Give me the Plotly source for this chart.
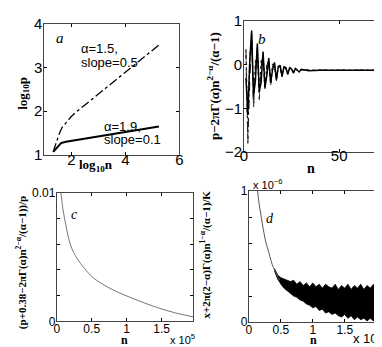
import plotly.graph_objects as go

# panel a: log10 p vs log10 n
a_x_solid = [1.33, 1.45, 1.55, 1.62, 1.8, 2.5, 3.5, 4.5, 5.24]
a_y_solid = [1.07, 1.15, 1.22, 1.27, 1.3, 1.37, 1.47, 1.57, 1.65]
a_x_dash = [1.33, 1.45, 1.55, 1.65, 1.8, 2.0, 2.2, 2.5, 3.0, 3.5, 4.0, 4.5, 5.24]
a_y_dash = [1.07, 1.3, 1.48, 1.62, 1.74, 1.88, 1.99, 2.14, 2.39, 2.64, 2.89, 3.14, 3.51]

# panel b: oscillating correction
b_n = list(range(1, 31)) + [34, 40, 70]
b_solid = [-0.3, -1.15, 0.05, 0.78, -0.72, -0.35, 0.48, -0.62, -0.4, 0.3,
           -0.52, -0.25, 0.15, -0.42, -0.12, 0.05, -0.34, -0.06, -0.02, -0.27,
           -0.05, -0.07, -0.22, -0.07, -0.1, -0.19, -0.09, -0.12, -0.17, -0.11,
           -0.14, -0.13, -0.13]
b_dash = [0.3, -1.8, -0.45, 0.62, -1.0, -0.05, 0.38, -0.8, -0.05, 0.24,
          -0.62, -0.02, 0.1, -0.48, -0.03, 0.0, -0.37, -0.04, -0.06, -0.29,
          -0.06, -0.09, -0.23, -0.08, -0.11, -0.19, -0.1, -0.12, -0.16, -0.12,
          -0.13, -0.13, -0.13]
b_dot = [0.35, -1.7, 0.15, 0.72, -0.88, 0.05, 0.28, -0.68, 0.08, 0.18,
         -0.56, 0.02, 0.06, -0.44, 0.0, -0.02, -0.35, -0.03, -0.07, -0.28,
         -0.05, -0.1, -0.22, -0.08, -0.12, -0.18, -0.1, -0.13, -0.15, -0.12,
         -0.13, -0.13, -0.13]

# panel c: relative error (n in units of 1e5)
c_n = [0.04, 0.06, 0.09, 0.13, 0.2, 0.29, 0.4, 0.52, 0.75, 0.99, 1.22, 1.45, 1.68, 1.95]
c_y = [0.0108, 0.01, 0.0087, 0.0075, 0.0059, 0.0049, 0.0041, 0.0034, 0.0026,
       0.002, 0.0015, 0.00105, 0.00068, 0.00035]

# panel d: smooth part then noisy band (n in 1e5, values in 1e-6)
d_n = [0.12, 0.134, 0.16, 0.184, 0.21, 0.234, 0.27, 0.308, 0.345, 0.383, 0.43, 0.483]
d_y = [1.03, 1.0, 0.9, 0.83, 0.75, 0.684, 0.6, 0.539, 0.47, 0.417, 0.37, 0.32]
d_band_n = [0.40, 0.45, 0.50, 0.55, 0.60, 0.65, 0.70, 0.75, 0.80, 0.85, 0.90, 0.95,
            1.00, 1.05, 1.10, 1.15, 1.20, 1.25, 1.30, 1.35, 1.40, 1.45, 1.50, 1.55,
            1.60, 1.65, 1.70, 1.75, 1.80, 1.85, 1.90, 1.95, 2.00, 2.05, 2.10]
d_band_hi = [0.41, 0.36, 0.34, 0.33, 0.32, 0.31, 0.32, 0.29, 0.31, 0.28, 0.30, 0.27,
             0.30, 0.27, 0.29, 0.26, 0.29, 0.27, 0.26, 0.29, 0.25, 0.28, 0.26, 0.29,
             0.25, 0.28, 0.26, 0.29, 0.25, 0.28, 0.26, 0.29, 0.25, 0.28, 0.26]
d_band_lo = [0.39, 0.33, 0.29, 0.26, 0.24, 0.22, 0.20, 0.19, 0.17, 0.16, 0.14, 0.13,
             0.11, 0.12, 0.09, 0.10, 0.07, 0.08, 0.06, 0.07, 0.05, 0.04, 0.06, 0.03,
             0.05, 0.02, 0.04, 0.02, 0.03, 0.01, 0.03, 0.01, 0.02, 0.01, 0.02]

W, H = 382, 347
SANS = "Liberation Sans, Arial, sans-serif"
SERIF = "Liberation Serif, Times New Roman, serif"


def px_dom(a, b, total, flip=False):
    if flip:
        return [1 - b / total, 1 - a / total]
    return [a / total, b / total]


def axis(domain, rng, tickvals, ticktext, anchor, fs, standoff=0):
    return dict(domain=domain, range=rng, tickvals=tickvals, ticktext=ticktext,
                ticks="inside", ticklen=3, tickcolor="black", showline=True,
                linecolor="#444", linewidth=1, mirror="allticks", showgrid=False,
                zeroline=False, anchor=anchor, ticklabelstandoff=standoff,
                tickfont=dict(family=SANS, size=fs, color="black"))


fig = go.Figure()

fig.add_trace(go.Scatter(x=a_x_dash, y=a_y_dash, mode="lines", xaxis="x", yaxis="y",
                         line=dict(color="black", width=1.3, dash="dashdot")))
fig.add_trace(go.Scatter(x=a_x_solid, y=a_y_solid, mode="lines", xaxis="x", yaxis="y",
                         line=dict(color="black", width=2)))

fig.add_trace(go.Scatter(x=b_n, y=b_dash, mode="lines", xaxis="x2", yaxis="y2",
                         line=dict(color="#222", width=1, dash="dash")))
fig.add_trace(go.Scatter(x=b_n, y=b_dot, mode="lines", xaxis="x2", yaxis="y2",
                         line=dict(color="#222", width=1.3, dash="dot")))
fig.add_trace(go.Scatter(x=b_n, y=b_solid, mode="lines", xaxis="x2", yaxis="y2",
                         line=dict(color="black", width=1.5)))

fig.add_trace(go.Scatter(x=c_n, y=c_y, mode="lines", xaxis="x3", yaxis="y3",
                         line=dict(color="#777", width=1, shape="spline")))

fig.add_trace(go.Scatter(x=d_band_n, y=d_band_lo, mode="lines", xaxis="x4", yaxis="y4",
                         line=dict(color="black", width=0.8)))
fig.add_trace(go.Scatter(x=d_band_n, y=d_band_hi, mode="lines", xaxis="x4", yaxis="y4",
                         fill="tonexty", fillcolor="black",
                         line=dict(color="black", width=0.8)))
fig.add_trace(go.Scatter(x=d_n, y=d_y, mode="lines", xaxis="x4", yaxis="y4",
                         line=dict(color="#555", width=1, shape="spline")))

fig.update_layout(
    width=W, height=H, margin=dict(l=0, r=0, t=0, b=0),
    paper_bgcolor="white", plot_bgcolor="white", showlegend=False,
    xaxis=axis(px_dom(33, 171, W), [1, 6], [2, 4, 6], ["2", "4", "6"], "y", 15, -9),
    yaxis=axis(px_dom(7, 145, H, True), [1, 4], [1, 2, 3, 4], ["1", "2", "3", "4"], "x", 15, -2),
    xaxis2=axis(px_dom(237, 373, W), [0, 70], [0, 50], ["0", "50"], "y2", 15, -10),
    yaxis2=axis(px_dom(4, 142, H, True), [-2, 1], [-2, -1, 0, 1], ["−2", "−1", "0", "1"], "x2", 15, -2),
    xaxis3=axis(px_dom(45.7, 185, W), [0, 1.95], [0, 0.5, 1, 1.5], ["0", "0.5", "1", "1.5"], "y3", 12, -4),
    yaxis3=axis(px_dom(185, 320, H, True), [0, 0.01], [0, 0.002, 0.004, 0.006, 0.008, 0.01],
                ["0", "", "", "", "", "0.01"], "x3", 12, -2),
    xaxis4=axis(px_dom(242, 379, W), [0, 2.1], [0, 0.5, 1, 1.5], ["0", "0.5", "1", "1.5"], "y4", 12, -4),
    yaxis4=axis(px_dom(183, 321, H, True), [0, 1], [0, 0.2, 0.4, 0.6, 0.8, 1],
                ["0", "", "", "", "", "1"], "x4", 12, -2),
)


def note(x, y, text, size=13, family=SANS, angle=0, xanchor="center", yanchor="middle"):
    fig.add_annotation(x=x / W, y=1 - y / H, xref="paper", yref="paper", text=text,
                       showarrow=False, textangle=angle, xanchor=xanchor, yanchor=yanchor,
                       font=dict(family=family, size=size, color="black"))


# panel letters
note(49, 22, "<i>a</i>", 15, SERIF)
note(255, 23, "<i>b</i>", 15, SERIF)
note(64, 208, "<i>c</i>", 14, SERIF)
note(264, 212, "<i>d</i>", 14, SERIF)

# panel a curve labels
note(68, 33, "α=1.5,", 13, xanchor="left")
note(68, 48, "slope=0.5", 13, xanchor="left")
note(92, 115, "α=1.9,", 13, xanchor="left")
note(92, 129, "slope=0.1", 13, xanchor="left")

# axis titles
note(86, 156, "<b>log<sub>10</sub>n</b>", 13, SERIF)
note(11, 80, "<b>log<sub>10</sub>p</b>", 13, SERIF, angle=-90)
note(206, 73, "<b>p−2πΓ(α)n<sup>2−α</sup>/(α−1)</b>", 13, SERIF, angle=-90)
note(305, 159, "<b>n</b>", 14, SERIF)
note(10, 258, "<b>(p+0.38−2πΓ(α)n<sup>2−α</sup>/(α−1))/p</b>", 11, SERIF, angle=-90)
note(115, 340, "<b>n</b>", 12, SERIF)
note(198, 250, "<b>x+2π(2−α)Γ(α)n<sup>1−α</sup>/(α−1)/K</b>", 11, SERIF, angle=-90)
note(308, 340, "<b>n</b>", 12, SERIF)

# exponent labels
note(189, 339, "x 10<sup>5</sup>", 11, xanchor="right")
note(381, 338, "x 10<sup>5</sup>", 13, xanchor="right")
note(244, 176, "x 10<sup>−6</sup>", 11, xanchor="left")

fig.write_html("out.html")
